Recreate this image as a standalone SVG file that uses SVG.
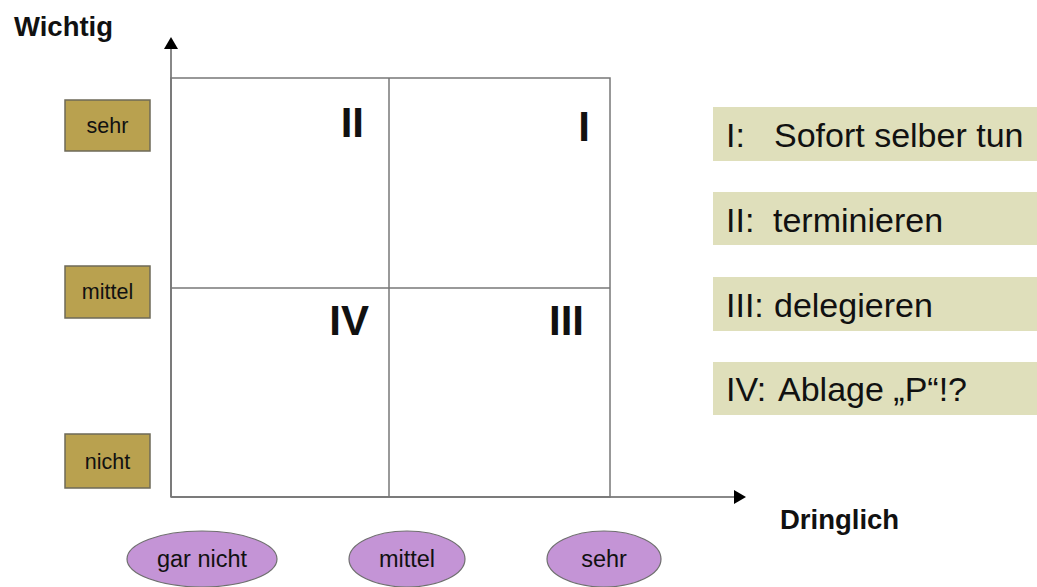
<svg xmlns="http://www.w3.org/2000/svg" width="1037" height="587" viewBox="0 0 1037 587">
<style>
  text { font-family: "Liberation Sans", Arial, sans-serif; fill: #111; }
  .axislbl { font-size: 27.5px; font-weight: bold; }
  .grid { fill: none; stroke: #777; stroke-width: 1.5; }
  .axis { stroke: #888; stroke-width: 2; fill: none; }
  .gold { fill: #b9a14f; stroke: #6e6a58; stroke-width: 1.5; }
  .gtxt { font-size: 21.5px; text-anchor: middle; }
  .purple { fill: #c494d6; stroke: #6f6f6f; stroke-width: 1.2; }
  .ptxt { font-size: 23.5px; text-anchor: middle; }
  .num { font-size: 42px; font-weight: bold; text-anchor: end; }
  .leg { fill: #dfdfbb; }
  .legtxt { font-size: 34px; }
</style>
<defs>
  <marker id="arr" viewBox="0 0 12 14" refX="0" refY="7" markerWidth="12" markerHeight="14" markerUnits="userSpaceOnUse" orient="auto">
    <path d="M0,0 L12,7 L0,14 Z" fill="#000"/>
  </marker>
</defs>

<g id="title-y"><text class="axislbl" x="14" y="36">Wichtig</text></g>
<g id="title-x"><text class="axislbl" x="780" y="529">Dringlich</text></g>

<g id="connectors">
  <line class="axis" x1="171" y1="497" x2="171" y2="49" marker-end="url(#arr)"/>
  <line class="axis" x1="171" y1="497" x2="734" y2="497" marker-end="url(#arr)"/>
</g>

<g id="grid">
  <rect class="grid" x="171" y="78" width="439" height="419"/>
  <line class="grid" x1="389" y1="78" x2="389" y2="497"/>
  <line class="grid" x1="171" y1="288" x2="610" y2="288"/>
  <text class="num" x="364" y="137">II</text>
  <text class="num" x="590" y="141">I</text>
  <text class="num" x="369" y="335">IV</text>
  <text class="num" x="584" y="335">III</text>
</g>

<g id="y-sehr"><rect class="gold" x="65" y="100" width="85" height="51"/><text class="gtxt" x="107.5" y="133">sehr</text></g>
<g id="y-mittel"><rect class="gold" x="65" y="266" width="85" height="52"/><text class="gtxt" x="107.5" y="299">mittel</text></g>
<g id="y-nicht"><rect class="gold" x="65" y="434" width="85" height="54"/><text class="gtxt" x="107.5" y="469">nicht</text></g>

<g id="x-garnicht"><ellipse class="purple" cx="202" cy="559" rx="75" ry="28"/><text class="ptxt" x="202" y="567">gar nicht</text></g>
<g id="x-mittel"><ellipse class="purple" cx="407" cy="559" rx="58" ry="28"/><text class="ptxt" x="407" y="567">mittel</text></g>
<g id="x-sehr"><ellipse class="purple" cx="604" cy="559" rx="57" ry="28"/><text class="ptxt" x="604" y="567">sehr</text></g>

<g id="leg1"><rect class="leg" x="713" y="107" width="324" height="54"/><text class="legtxt" y="147"><tspan x="726">I:</tspan><tspan x="774">Sofort selber tun</tspan></text></g>
<g id="leg2"><rect class="leg" x="713" y="192" width="324" height="53"/><text class="legtxt" y="232"><tspan x="726">II:</tspan><tspan x="773">terminieren</tspan></text></g>
<g id="leg3"><rect class="leg" x="713" y="277" width="324" height="54"/><text class="legtxt" y="317"><tspan x="726">III:</tspan><tspan x="774">delegieren</tspan></text></g>
<g id="leg4"><rect class="leg" x="713" y="362" width="324" height="53"/><text class="legtxt" y="401"><tspan x="726">IV:</tspan><tspan x="778">Ablage „P“!?</tspan></text></g>
</svg>
